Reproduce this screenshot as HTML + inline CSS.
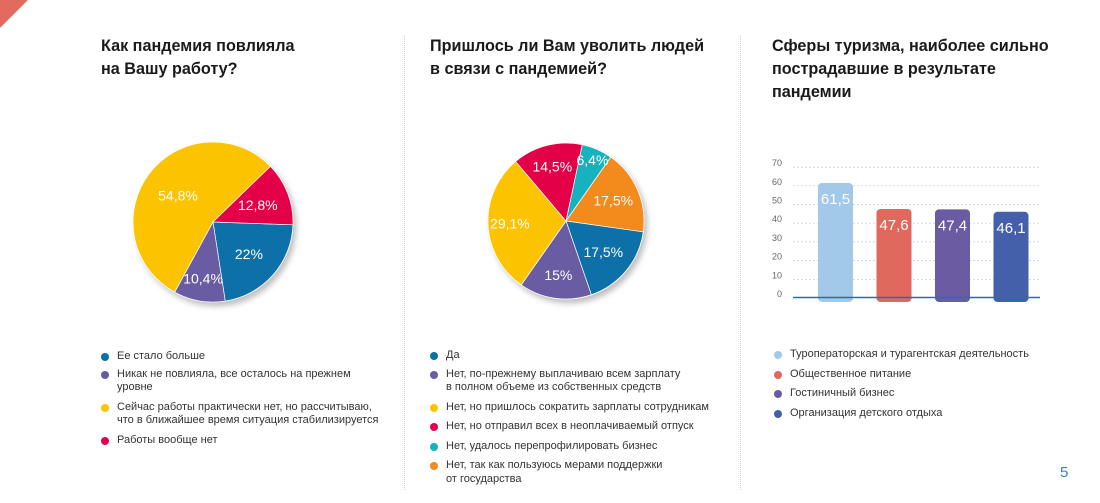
<!DOCTYPE html>
<html><head><meta charset="utf-8"><style>
body{margin:0;width:1100px;height:503px;background:#fff;font-family:"Liberation Sans","DejaVu Sans",sans-serif;position:relative;overflow:hidden}
.t{position:absolute;font-weight:bold;font-size:16.2px;line-height:23px;color:#1a1a1a}
.lg{position:absolute;font-size:11px;line-height:13.5px;color:#333}
.lg div{position:relative;padding-left:16px;margin:0}
.lg div span{position:absolute;left:0;top:3px;width:8px;height:8px;border-radius:50%}
.div{position:absolute;top:35px;height:455px;border-left:1px dotted #bcd7e6}
</style></head><body>
<svg style="position:absolute;left:0;top:0" width="30" height="30"><polygon points="0,0 28,0 0,28" fill="#e26a5f"/></svg>
<div class="div" style="left:404px"></div>
<div class="div" style="left:740px"></div>
<div class="t" style="left:101px;top:35px">Как пандемия повлияла<br>на Вашу работу?</div>
<div class="t" style="left:430px;top:35px">Пришлось ли Вам уволить людей<br>в связи с пандемией?</div>
<div class="t" style="left:772px;top:35px">Сферы туризма, наиболее сильно<br>пострадавшие в результате<br>пандемии</div>
<svg id="charts" style="position:absolute;left:0;top:0" width="1100" height="503">
<defs><filter id="sh" x="-20%" y="-20%" width="140%" height="140%"><feDropShadow dx="3" dy="4" stdDeviation="3" flood-color="#000" flood-opacity="0.25"/></filter></defs>
<g id="pie1" filter="url(#sh)"></g><g id="pie2" filter="url(#sh)"></g><g id="bars"></g>
</svg>
<div class="lg" style="left:101px;top:350px;width:300px">
<div style="margin-bottom:4px"><span style="background:#0b6fa8"></span>Ее стало больше</div>
<div style="margin-bottom:6px"><span style="background:#6a5ba3"></span>Никак не повлияла, все осталось на прежнем<br>уровне</div>
<div style="margin-bottom:6px"><span style="background:#fcc400"></span>Сейчас работы практически нет, но рассчитываю,<br>что в ближайшее время ситуация стабилизируется</div>
<div><span style="background:#e4004a"></span>Работы вообще нет</div>
</div>
<div class="lg" style="left:430px;top:349px;width:310px">
<div style="margin-bottom:5px"><span style="background:#0b6fa8"></span>Да</div>
<div style="margin-bottom:6px"><span style="background:#6a5ba3"></span>Нет, по-прежнему выплачиваю всем зарплату<br>в полном объеме из собственных средств</div>
<div style="margin-bottom:6px"><span style="background:#fcc400"></span>Нет, но пришлось сократить зарплаты сотрудникам</div>
<div style="margin-bottom:6px"><span style="background:#e4004a"></span>Нет, но отправил всех в неоплачиваемый отпуск</div>
<div style="margin-bottom:6px"><span style="background:#13b3bf"></span>Нет, удалось перепрофилировать бизнес</div>
<div><span style="background:#f28a1f"></span>Нет, так как пользуюсь мерами поддержки<br>от государства</div>
</div>
<div class="lg" style="left:774px;top:348px;width:320px">
<div style="margin-bottom:6px"><span style="background:#a3c9ea"></span>Туроператорская и турагентская деятельность</div>
<div style="margin-bottom:6px"><span style="background:#e0685c"></span>Общественное питание</div>
<div style="margin-bottom:6px"><span style="background:#6a5ba3"></span>Гостиничный бизнес</div>
<div><span style="background:#4460aa"></span>Организация детского отдыха</div>
</div>
<div style="position:absolute;left:1060px;top:464px;font-size:15px;color:#2a8ab8">5</div>
<script>
const pie1Labels=["22%","10,4%","54,8%","12,8%"];
const pie1Values=[22,10.4,54.8,12.8];
const pie1Colors=["#0b6fa8","#6a5ba3","#fcc400","#e4004a"];
const pie2Labels=["6,4%","17,5%","17,5%","15%","29,1%","14,5%"];
const pie2Values=[6.4,17.5,17.5,15,29.1,14.5];
const pie2Colors=["#13b3bf","#f28a1f","#0b6fa8","#6a5ba3","#fcc400","#e4004a"];
const barCategories=["Туроператорская и турагентская деятельность","Общественное питание","Гостиничный бизнес","Организация детского отдыха"];
const barValues=[61.5,47.6,47.4,46.1];
const barLabels=["61,5","47,6","47,4","46,1"];
const barColors=["#a3c9ea","#e0685c","#6a5ba3","#4460aa"];
const yTicks=[0,10,20,30,40,50,60,70];
const NS="http://www.w3.org/2000/svg";
function mk(tag,attrs,parent){const e=document.createElementNS(NS,tag);for(const k in attrs)e.setAttribute(k,attrs[k]);parent.appendChild(e);return e;}
function pie(g,vals,labels,colors,cx,cy,r,start,lrs){
  const tot=vals.reduce((a,b)=>a+b,0);let a=start;
  const tg=[];
  vals.forEach((v,i)=>{
    const a0=a*Math.PI/180,a1=(a+v/tot*360)*Math.PI/180;
    const x0=cx+r*Math.sin(a0),y0=cy-r*Math.cos(a0),x1=cx+r*Math.sin(a1),y1=cy-r*Math.cos(a1);
    const large=(a1-a0)>Math.PI?1:0;
    const p=mk('path',{d:`M${cx},${cy}L${x0},${y0}A${r},${r} 0 ${large} 1 ${x1},${y1}Z`,fill:colors[i],stroke:'#fff','stroke-width':0.7},g);
    
    
    tg.push([(a0+a1)/2,i]);
    a+=v/tot*360;
  });
  tg.forEach(([am,i])=>{
    const lr=lrs[i];
    const t=mk('text',{x:cx+r*lr*Math.sin(am),y:cy-r*lr*Math.cos(am)+5,'text-anchor':'middle','font-size':14,fill:'#fff'},g.parentNode);
    t.textContent=labels[i];
    
    
  });
}
pie(document.getElementById('pie1'),pie1Values,pie1Labels,pie1Colors,213,222,80,92,[0.6,0.72,0.55,0.6]);
pie(document.getElementById('pie2'),pie2Values,pie2Labels,pie2Colors,566,221,78,12,[0.85,0.66,0.62,0.7,0.72,0.72]);
const bg=document.getElementById('bars');
const y0=298,k=1.87,xl=793,xr=1040;
const ys=v=>y0-v*k;
yTicks.forEach(t=>{
  if(t>0){const l=mk('line',{x1:xl,x2:xr,y1:ys(t),y2:ys(t),stroke:'#b9cbe0','stroke-dasharray':'2,2','stroke-width':0.7},bg);
  
  }
  const tx=mk('text',{x:782,y:ys(t)-1,'text-anchor':'end','font-size':9,fill:'#666'},bg);
  tx.textContent=t;
  
  
});
const bx0=818,bstep=58.5,bw=35;
barValues.forEach((v,i)=>{
  const x=bx0+i*bstep,h=v*k;
  const r=mk('rect',{x:x,y:ys(v),width:bw,height:h+4,rx:4,fill:barColors[i]},bg);
  
  
  const t=mk('text',{x:x+bw/2,y:ys(v)+21,'text-anchor':'middle','font-size':15,fill:'#fff'},bg);
  t.textContent=barLabels[i];
  
  
});
const ax=mk('line',{x1:xl,x2:xr,y1:y0-0.5,y2:y0-0.5,stroke:'#2b6f9c','stroke-width':1.5},bg);


</script>
</body></html>
